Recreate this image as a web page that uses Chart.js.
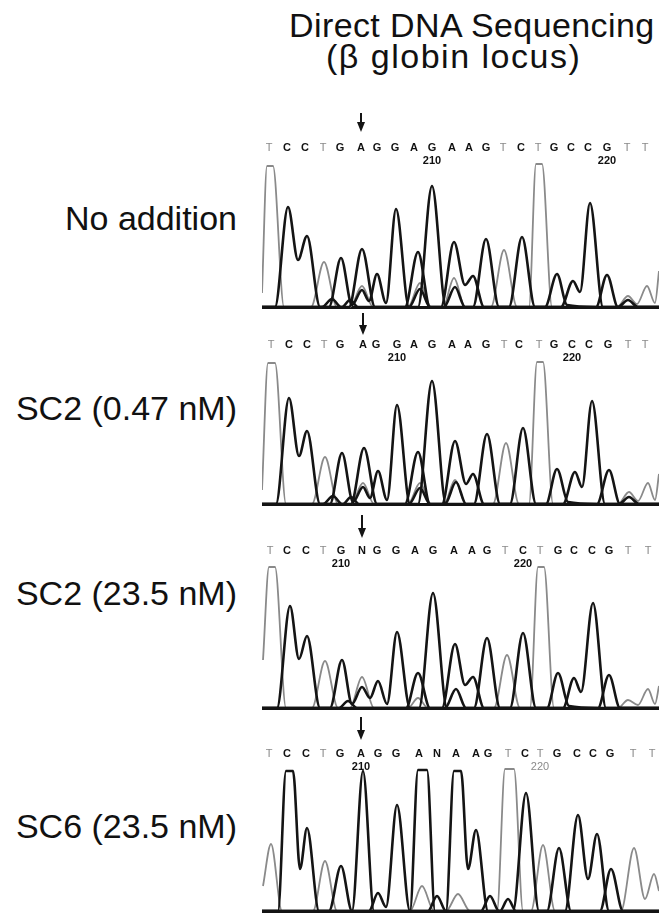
<!DOCTYPE html>
<html>
<head>
<meta charset="utf-8">
<script src="https://cdn.jsdelivr.net/npm/chart.js@4.4.0/dist/chart.umd.min.js"></script>
<style>
  body { margin: 0; background: #fff; width: 659px; height: 914px; position: relative; overflow: hidden;
         font-family: "Liberation Sans", Arial, sans-serif; color: #111; }
  .title { position: absolute; font-size: 34px; line-height: 31px; white-space: nowrap; }
  .label { position: absolute; right: 422px; font-size: 34px; line-height: 34px; white-space: nowrap; text-align: right; }
  .panel { position: absolute; left: 262px; width: 397px; }
</style>
</head>
<body>
<div class="title" style="left:289px; top:10px; letter-spacing:0.4px">Direct DNA Sequencing</div>
<div class="title" style="left:326px; top:41px; letter-spacing:1.5px">(β globin locus)</div>
<div class="label" style="top:201px">No addition</div>
<div class="label" style="top:391px">SC2 (0.47 nM)</div>
<div class="label" style="top:576px">SC2 (23.5 nM)</div>
<div class="label" style="top:809px">SC6 (23.5 nM)</div>

<div class="panel" style="top:107px"><canvas id="c1" width="397" height="203"></canvas></div>
<div class="panel" style="top:304px"><canvas id="c2" width="397" height="203"></canvas></div>
<div class="panel" style="top:510px"><canvas id="c3" width="397" height="201"></canvas></div>
<div class="panel" style="top:713px"><canvas id="c4" width="397" height="201"></canvas></div>

<script>
// ===== BASE CALLS (letters above each trace) =====
const seq1 = ['T','C','C','T','G','A','G','G','A','G','A','A','G','T','C','T','G','C','C','G','T','T'];
const seq2 = ['T','C','C','T','G','A','G','G','A','G','A','A','G','T','C','T','G','C','C','G','T','T'];
const seq3 = ['T','C','C','T','G','N','G','G','A','G','A','A','G','T','C','T','G','C','C','G','T','T'];
const seq4 = ['T','C','C','T','G','A','G','G','A','N','A','A','G','T','C','T','G','C','C','G','T','T'];

// scan position of each call
const pos1 = [269,287,305,323,340,361,377,395,414,432,452,469,486,503,521,538,554,571,588,607,627,645];
const pos2 = [271,289,307,324,340,363,376,397,414,432,452,468,486,504,519,539,554,572,589,608,628,645];
const pos3 = [270,287,306,323,341,362,377,396,415,433,454,472,487,505,523,540,558,574,592,609,628,648];
const pos4 = [269,287,306,323,340,361,378,396,419,437,456,476,488,508,525,540,557,577,593,610,633,652];

// numbered calls: [call index, label]
const num1 = [[9,'210'],[19,'220']];
const num2 = [[7,'210'],[17,'220']];
const num3 = [[4,'210'],[14,'220']];
const num4 = [[5,'210'],[15,'220']];

// call marked by the arrow
const arrowCall = [5, 5, 5, 5];

// ===== TRACES: [scan, signal] at the peaks and valleys =====
// No addition
const p1T = [[262,14],[267,141],[273,141],[284,0],[311,0],[324,45],[337,0],[350,0],[362,21],[373,0],[408,0],[420,24],[431,0],[443,0],[454,29],[465,0],[491,0],[504,57],[517,0],[529,0],[536,143],[542,143],[552,0],[617,0],[628,11],[637,3],[647,21],[655,4],[659,36]];
const p1C = [[262,0],[275,0],[288,100],[298,47],[307,71],[320,0],[322,0],[332,8],[341,0],[342,0],[350,7],[358,0],[409,0],[420,18],[430,0],[444,0],[455,20],[465,0],[509,0],[522,70],[535,0],[561,0],[573,26],[580,15],[590,104],[603,0],[618,0],[628,7],[638,0],[659,0]];
const p1G = [[262,0],[329,0],[341,49],[352,2],[362,17],[369,6],[377,33],[386,4],[396,98],[409,0],[418,0],[432,121],[446,0],[473,0],[486,68],[499,0],[545,0],[557,33],[567,2],[596,0],[607,32],[618,0],[659,0]];
const p1A = [[262,0],[349,0],[362,58],[375,0],[405,0],[418,55],[430,0],[441,0],[454,65],[465,22],[473,31],[484,0],[659,0]];

// SC2 (0.47 nM)
const p2T = [[262,14],[268,141],[275,141],[286,0],[312,0],[325,47],[338,0],[351,0],[363,21],[374,0],[408,0],[420,21],[431,0],[444,0],[455,24],[466,0],[493,0],[506,61],[519,0],[529,0],[537,142],[543,142],[553,0],[618,0],[629,12],[638,3],[648,21],[655,4],[659,30]];
const p2C = [[262,0],[276,0],[289,106],[299,48],[307,73],[320,0],[323,0],[333,8],[342,0],[343,0],[351,7],[359,0],[409,0],[420,16],[430,0],[445,0],[456,22],[466,0],[510,0],[523,76],[536,0],[563,0],[575,32],[582,17],[592,103],[605,0],[619,0],[629,7],[639,0],[659,0]];
const p2G = [[262,0],[330,0],[342,51],[353,2],[363,17],[370,6],[378,33],[387,4],[397,99],[410,0],[418,0],[432,123],[446,0],[474,0],[487,70],[500,0],[546,0],[557,35],[568,2],[597,0],[609,34],[620,0],[659,0]];
const p2A = [[262,0],[351,0],[364,56],[377,0],[405,0],[418,52],[430,0],[442,0],[455,63],[466,20],[473,30],[484,0],[659,0]];

// SC2 (23.5 nM)
const p3T = [[263,48],[269,141],[275,141],[286,0],[312,0],[325,47],[338,0],[350,0],[362,31],[374,0],[408,0],[418,10],[428,0],[494,0],[507,53],[520,0],[530,0],[538,141],[544,141],[554,0],[618,0],[628,8],[638,3],[648,19],[655,4],[659,22]];
const p3C = [[262,0],[277,0],[290,102],[299,49],[307,72],[320,0],[339,0],[348,7],[357,0],[445,0],[456,19],[466,0],[510,0],[523,75],[536,0],[563,0],[574,30],[581,16],[593,105],[606,0],[659,0]];
const p3G = [[262,0],[330,0],[342,48],[352,4],[362,21],[370,10],[378,27],[387,4],[397,76],[410,0],[419,0],[433,115],[447,0],[474,0],[487,70],[500,0],[547,0],[558,35],[569,2],[598,0],[609,33],[620,0],[659,0]];
const p3A = [[262,0],[406,0],[418,35],[430,0],[442,0],[455,64],[465,23],[473,31],[484,0],[659,0]];

// SC6 (23.5 nM)
const p4T = [[263,25],[271,67],[282,0],[313,0],[325,50],[337,0],[410,0],[422,25],[434,0],[446,0],[458,17],[470,0],[497,0],[505,142],[514,142],[523,0],[531,0],[543,66],[555,0],[621,0],[634,63],[645,12],[654,37],[659,20]];
const p4C = [[262,0],[278,0],[286,140],[293,140],[300,42],[307,83],[319,0],[513,0],[526,118],[539,0],[565,0],[578,96],[588,32],[597,77],[609,0],[659,0]];
const p4G = [[262,0],[329,0],[341,45],[352,0],[369,0],[378,18],[386,4],[397,106],[410,0],[428,0],[437,15],[446,0],[481,0],[490,15],[499,0],[547,0],[559,63],[571,0],[600,0],[611,42],[623,0],[659,0]];
const p4A = [[262,0],[352,0],[363,140],[374,0],[410,0],[418,141],[427,141],[435,0],[446,0],[454,140],[461,140],[468,42],[476,81],[488,0],[500,0],[508,12],[516,0],[659,0]];

// ===== CHARTS =====
const BLACK = '#141414';
const GREY = '#8a8a8a';
const FONT = '"Liberation Sans", Arial, sans-serif';

// arrow pointing at the marked call
const arrowMark = {
    id: 'arrowMark',
    afterDraw(chart, args, opts) {
        const x = chart.scales.x.getPixelForValue(opts.value);
        const top = chart.chartArea.top;
        const c = chart.ctx;
        c.save();
        c.strokeStyle = BLACK;
        c.fillStyle = BLACK;
        c.lineWidth = 2;
        c.beginPath();
        c.moveTo(x, top + opts.from);
        c.lineTo(x, top + opts.to - 8);
        c.stroke();
        c.beginPath();
        c.moveTo(x - 4, top + opts.to - 10);
        c.lineTo(x + 4, top + opts.to - 10);
        c.lineTo(x, top + opts.to);
        c.closePath();
        c.fill();
        c.restore();
    }
};

function trace(points, color, width, order) {
    return {
        data: points.map(([x, y]) => ({ x, y })),
        borderColor: color,
        borderWidth: width,
        pointRadius: 0,
        fill: false,
        clip: false,
        cubicInterpolationMode: 'monotone',
        order: order
    };
}

function makePanel(id, seq, pos, num, T, A, C, G, arrowIdx, yMax, from, to) {
    const labels = seq.map((s, i) => {
        const n = num.find(m => m[0] === i);
        return [s, n ? n[1] : ''];
    });

    new Chart(document.getElementById(id), {
        type: 'line',
        data: {
            datasets: [
                trace(A, BLACK, 2.6, 1),
                trace(C, BLACK, 2.6, 1),
                trace(G, BLACK, 2.6, 1),
                trace(T, GREY, 1.8, 2)
            ]
        },
        options: {
            responsive: false,
            animation: false,
            layout: { padding: 0 },
            plugins: {
                legend: { display: false },
                tooltip: { enabled: false },
                arrowMark: { value: pos[arrowIdx], from: from, to: to }
            },
            scales: {
                x: {
                    type: 'linear', position: 'top', min: 262, max: 659,
                    grid: { display: false, drawTicks: false },
                    border: { display: false },
                    ticks: {
                        autoSkip: false, maxRotation: 0, padding: 0,
                        color: (ctx) => seq[ctx.index] === 'T' ? '#8a8a8a' : '#111',
                        font: (ctx) => ({ family: FONT, size: 11, lineHeight: 1.18,
                                          weight: seq[ctx.index] === 'T' ? 'normal' : 'bold' }),
                        callback: (value, index) => labels[index]
                    },
                    afterBuildTicks: (scale) => { scale.ticks = pos.map(v => ({ value: v })); },
                    afterFit: (scale) => { scale.height = 60; }
                },
                xb: {
                    type: 'linear', position: 'bottom', min: 262, max: 659,
                    grid: { display: false, drawTicks: false },
                    ticks: { display: false },
                    border: { display: true, color: BLACK, width: 3 },
                    afterFit: (scale) => { scale.height = 3; }
                },
                y: { display: false, min: 0, max: yMax }
            }
        },
        plugins: [arrowMark]
    });
}

makePanel('c1', seq1, pos1, num1, p1T, p1A, p1C, p1G, arrowCall[0], 140, -54, -35);
makePanel('c2', seq2, pos2, num2, p2T, p2A, p2C, p2G, arrowCall[1], 140, -51, -29);
makePanel('c3', seq3, pos3, num3, p3T, p3A, p3C, p3G, arrowCall[2], 138, -55, -32);
makePanel('c4', seq4, pos4, num4, p4T, p4A, p4C, p4G, arrowCall[3], 138, -56, -33);
</script>
</body>
</html>
